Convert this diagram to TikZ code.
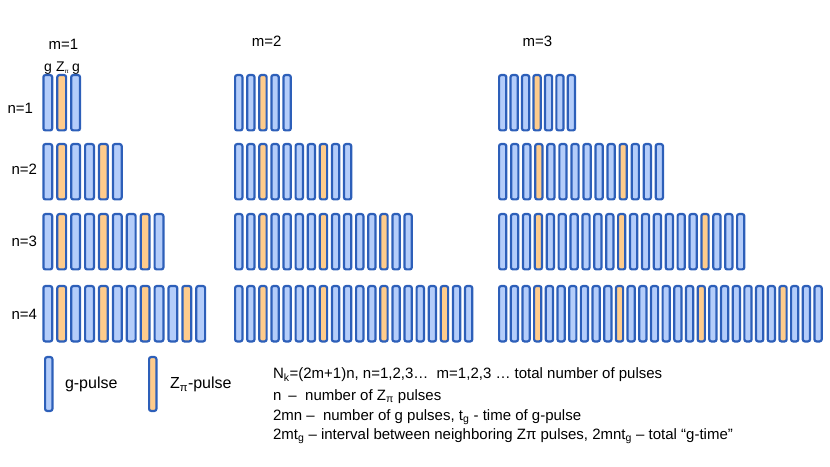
\documentclass[tikz,border=0pt]{standalone}
\usepackage{fontspec}
\setmainfont{Liberation Sans}
\definecolor{gfill}{RGB}{180,205,250}
\definecolor{zfill}{RGB}{255,204,140}
\definecolor{pedge}{RGB}{45,95,185}
\tikzset{
  pulse/.style={draw=pedge, line width=2.2bp, rounded corners=2bp, inner sep=0pt, outer sep=0pt, anchor=north west},
  lbl/.style={inner sep=0pt, outer sep=0pt},
}
% #1 m, #2 n, #3 x0 (outer left), #4 pitch, #5 top, #6 outer width
\newcommand\pulserow[6]{%
  \pgfmathtruncatemacro\lastidx{(2*#1+1)*#2-1}%
  \foreach \i in {0,...,\lastidx}{%
    \pgfmathtruncatemacro\kk{mod(\i,2*#1+1)}%
    \ifnum\kk=#1 \def\pf{zfill}\else\def\pf{gfill}\fi
    \node[pulse, fill=\pf, minimum width={#6*1bp-2.2bp}, minimum height=55.3bp] (p#1-#2-\i) at ({#3+\i*#4+1.1},{#5+1.1}) {};
  }%
}
\begin{document}
\begin{tikzpicture}[x=1bp,y=-1bp, font=\fontsize{15bp}{20bp}\selectfont]
\useasboundingbox (0,0) rectangle (830,467);
% column headers
\node[lbl, anchor=base] (m1) at (63.5,49.3) {m=1};
\node[lbl, anchor=base] (m2) at (266.7,46.7) {m=2};
\node[lbl, anchor=base] (m3) at (537.5,46.3) {m=3};
\node[lbl, anchor=base, font=\fontsize{14bp}{16bp}\selectfont] (tg1) at (48,71.3) {g};
\node[lbl, anchor=base west, font=\fontsize{14bp}{16bp}\selectfont] (tz) at (56,71.3) {Z\raisebox{-2.5bp}{\fontsize{6bp}{6bp}\selectfont π}};
\node[lbl, anchor=base, font=\fontsize{14bp}{16bp}\selectfont] (tg2) at (76,71.3) {g};
% row labels
\node[lbl, anchor=base east] (n1) at (33,113.3) {n=1};
\node[lbl, anchor=base east] (n2) at (37,175) {n=2};
\node[lbl, anchor=base east] (n3) at (37,246.7) {n=3};
\node[lbl, anchor=base east] (n4) at (37,320) {n=4};
% pulses m=1
\pulserow{1}{1}{42.3}{13.9}{74}{11}
\pulserow{1}{2}{42.3}{13.9}{143}{11}
\pulserow{1}{3}{42.3}{13.9}{213}{11}
\pulserow{1}{4}{42.3}{13.9}{285}{11}
% pulses m=2
\pulserow{2}{1}{234}{12.1}{74}{9.5}
\pulserow{2}{2}{234}{12.1}{143}{9.5}
\pulserow{2}{3}{234}{12.1}{213}{9.5}
\pulserow{2}{4}{234}{12.1}{285}{9.5}
% pulses m=3
\pulserow{3}{1}{498}{11.45}{74}{9.4}
\pulserow{3}{2}{498}{12.05}{143}{9.4}
\pulserow{3}{3}{498}{11.9}{213}{9.4}
\pulserow{3}{4}{498}{11.68}{285}{9.4}
% legend
\node[pulse, fill=gfill, minimum width=7.3bp, minimum height=53.8bp] (leg-g) at (45.1,357.1) {};
\node[lbl, anchor=base west, font=\fontsize{16bp}{20bp}\selectfont] (leg-gt) at (65,388.5) {g-pulse};
\node[pulse, fill=zfill, minimum width=7.3bp, minimum height=53.8bp] (leg-z) at (149.1,357.1) {};
\node[lbl, anchor=base west, font=\fontsize{16bp}{20bp}\selectfont] (leg-zt) at (170,388.5) {Z\textsubscript{π}-pulse};
% explanation text
\node[lbl, anchor=base west] (t1) at (273,379) {N\textsubscript{k}=(2m+1)n, n=1,2,3…\ \ m=1,2,3 … total number of pulses};
\node[lbl, anchor=base west] (t2) at (273,400.5) {\makebox[15.5bp][l]{n}–\ \ number of Z\textsubscript{π} pulses};
\node[lbl, anchor=base west] (t3) at (273,420.5) {2mn –\ \ number of g pulses, t\textsubscript{g} - time of g-pulse};
\node[lbl, anchor=base west] (t4) at (273,439.5) {2mt\textsubscript{g} – interval between neighboring Zπ pulses, 2mnt\textsubscript{g} – total “g-time”};
\end{tikzpicture}
\end{document}
